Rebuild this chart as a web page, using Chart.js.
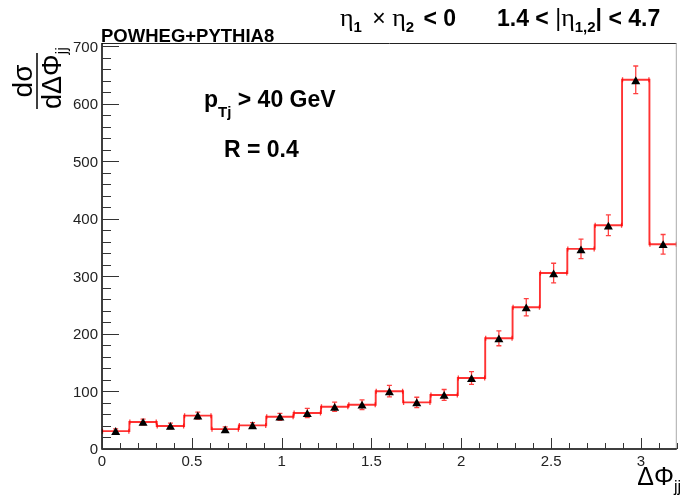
<!DOCTYPE html>
<html>
<head>
<meta charset="utf-8">
<script src="https://cdn.jsdelivr.net/npm/chart.js@4.4.0/dist/chart.umd.min.js"></script>
<style>
body { margin: 0; background: #fff; }
canvas { display: block; }
</style>
</head>
<body>
<canvas id="mycanvas" width="682" height="495"></canvas>
<script>
// binning of the histogram
var xMin = 0, xMax = 3.2, nBins = 21;
var yMin = 0, yMax = 706;

// red histogram (step line) and its errors
var histValues = [31, 47, 40, 58, 34.5, 41, 56, 62.5, 73.5, 77, 100.5, 81, 94, 123.5, 192.5, 246.5, 306, 348, 389, 642, 356];
var histErrors = [4, 5, 5, 6, 4, 5, 6, 8, 8, 8.5, 10, 9, 9.5, 11, 13, 15, 17, 17, 18, 24, 17];
// black triangles
var pointValues = [29, 45, 38, 56, 32, 39, 54, 60, 71, 75, 98, 79, 92, 121, 190, 244, 303, 345, 386, 639, 354];

var xTickValues = [0, 0.5, 1, 1.5, 2, 2.5, 3];
var xTickLabels = ["0", "0.5", "1", "1.5", "2", "2.5", "3"];
var yTickValues = [0, 100, 200, 300, 400, 500, 600, 700];
var yTickLabels = ["0", "100", "200", "300", "400", "500", "600", "700"];
var xMinorStep = 0.1, yMinorStep = 20;

var binWidth = (xMax - xMin) / nBins;
var stepData = [];
var pointData = [];
for (var i = 0; i < nBins; i++) {
    stepData.push({ x: xMin + i * binWidth, y: histValues[i] });
    pointData.push({ x: xMin + (i + 0.5) * binWidth, y: pointValues[i] });
}
stepData.push({ x: xMax, y: histValues[nBins - 1] });

// draws a row of text pieces: [text, font, dy]
function drawRuns(ctx, x, y, runs) {
    for (var k = 0; k < runs.length; k++) {
        ctx.font = runs[k][1];
        ctx.fillText(runs[k][0], x, y + (runs[k][2] || 0));
        x += ctx.measureText(runs[k][0]).width;
    }
    return x;
}
function runsWidth(ctx, runs) {
    var w = 0;
    for (var k = 0; k < runs.length; k++) {
        ctx.font = runs[k][1];
        w += ctx.measureText(runs[k][0]).width;
    }
    return w;
}

var errorBars = {
    id: 'errorBars',
    beforeDatasetsDraw: function(chart) {
        var ctx = chart.ctx, xs = chart.scales.x, ys = chart.scales.y;
        ctx.save();
        ctx.strokeStyle = 'rgba(255,0,0,0.75)';
        ctx.lineWidth = 1.3;
        for (var i = 0; i < nBins; i++) {
            var cx = xs.getPixelForValue(xMin + (i + 0.5) * binWidth);
            var lo = xs.getPixelForValue(xMin + i * binWidth);
            var hi = xs.getPixelForValue(xMin + (i + 1) * binWidth);
            var yv = ys.getPixelForValue(histValues[i]);
            var y1 = ys.getPixelForValue(histValues[i] + histErrors[i]);
            var y2 = ys.getPixelForValue(histValues[i] - histErrors[i]);
            ctx.beginPath();
            ctx.moveTo(cx, y1); ctx.lineTo(cx, y2);
            ctx.moveTo(cx - 2.5, y1); ctx.lineTo(cx + 2.5, y1);
            ctx.moveTo(cx - 2.5, y2); ctx.lineTo(cx + 2.5, y2);
            ctx.moveTo(lo + 0.5, yv - 2.5); ctx.lineTo(lo + 0.5, yv + 2.5);
            ctx.moveTo(hi - 0.5, yv - 2.5); ctx.lineTo(hi - 0.5, yv + 2.5);
            ctx.stroke();
        }
        ctx.restore();
    }
};

var frameAndText = {
    id: 'frameAndText',
    afterDraw: function(chart) {
        var ctx = chart.ctx, a = chart.chartArea, xs = chart.scales.x, ys = chart.scales.y;
        ctx.save();
        // frame
        ctx.lineWidth = 1;
        ctx.strokeStyle = '#222';
        ctx.beginPath();
        ctx.moveTo(a.left, a.top + 0.5); ctx.lineTo(a.right, a.top + 0.5);
        ctx.stroke();
        ctx.strokeStyle = '#aaa';
        ctx.beginPath();
        ctx.moveTo(a.right - 0.5, a.top); ctx.lineTo(a.right - 0.5, a.bottom);
        ctx.stroke();
        ctx.strokeStyle = '#000';
        ctx.lineWidth = 1.5;
        ctx.beginPath();
        ctx.moveTo(a.left, a.top); ctx.lineTo(a.left, a.bottom);
        ctx.lineTo(a.right, a.bottom);
        ctx.stroke();

        // ticks
        ctx.strokeStyle = '#333';
        ctx.lineWidth = 1;
        ctx.beginPath();
        for (var v = xMin; v <= xMax + 1e-9; v += xMinorStep) {
            var px = Math.round(xs.getPixelForValue(v)) + 0.5;
            var major = Math.abs(v * 2 - Math.round(v * 2)) < 1e-6;
            ctx.moveTo(px, a.bottom);
            ctx.lineTo(px, a.bottom - (major ? 11 : 6));
        }
        for (var w = yMin; w <= yMax + 1e-9; w += yMinorStep) {
            var py = Math.round(ys.getPixelForValue(w)) + 0.5;
            var majorY = w % 100 === 0;
            ctx.moveTo(a.left, py);
            ctx.lineTo(a.left + (majorY ? 17 : 9), py);
        }
        ctx.stroke();

        // tick labels
        ctx.fillStyle = '#222';
        ctx.font = '15px "Liberation Sans", Arial, sans-serif';
        ctx.textAlign = 'center';
        ctx.textBaseline = 'top';
        for (var i = 0; i < xTickValues.length; i++) {
            ctx.fillText(xTickLabels[i], xs.getPixelForValue(xTickValues[i]), a.bottom + 5);
        }
        ctx.textAlign = 'right';
        ctx.textBaseline = 'middle';
        for (var j = 0; j < yTickValues.length; j++) {
            ctx.fillText(yTickLabels[j], a.left - 4, ys.getPixelForValue(yTickValues[j]) + 1);
        }

        // axis titles
        ctx.fillStyle = '#000';
        ctx.textAlign = 'left';
        ctx.textBaseline = 'alphabetic';
        var sans = '"Liberation Sans", Arial, sans-serif';
        var xt = [["\u0394\u03A6", '25px ' + sans, 0], ["jj", '16px ' + sans, 7]];
        drawRuns(ctx, 681 - runsWidth(ctx, xt), 485, xt);

        ctx.save();
        ctx.translate(37, 81);
        ctx.rotate(-Math.PI / 2);
        ctx.textAlign = 'center';
        ctx.font = '28px ' + sans;
        ctx.fillText("d\u03C3", 0, -5);
        ctx.fillRect(-28, -0.75, 56, 1.5);
        ctx.textAlign = 'left';
        var den = [["d\u0394\u03A6", '27px ' + sans, 0], ["jj", '17px ' + sans, 6]];
        drawRuns(ctx, -28, 24, den);
        ctx.restore();

        // header texts
        var bold = 'bold 23px ' + sans;
        var sub = 'bold 15px ' + sans;
        var eta = '26px "Liberation Serif", "DejaVu Serif", serif';
        var x1 = drawRuns(ctx, 340, 26, [["\u03B7", eta, 0], ["1", sub, 6]]);
        x1 = drawRuns(ctx, x1 + 4, 26, [[" \u00D7 ", '23px ' + sans, 0], ["\u03B7", eta, 0], ["2", sub, 6]]);
        drawRuns(ctx, x1 + 3, 26, [[" < 0", bold, 0]]);
        drawRuns(ctx, 497, 26, [["1.4 < ", bold, 0], ["|", '23px ' + sans, 0], ["\u03B7", eta, 0],
            ["1,2", sub, 6], ["| < 4.7", bold, 0]]);
        drawRuns(ctx, 101, 42, [["POWHEG+PYTHIA8", 'bold 18.5px ' + sans, 0]]);

        var bold23 = 'bold 23px ' + sans;
        drawRuns(ctx, 204, 107, [["p", bold23, 0], ["Tj", 'bold 15px ' + sans, 10], [" > 40 GeV", bold23, 0]]);
        drawRuns(ctx, 224, 157, [["R = 0.4", bold23, 0]]);
        ctx.restore();
    }
};

var ctx = document.getElementById("mycanvas").getContext("2d");
var chart = new Chart(ctx, {
    type: 'scatter',
    data: {
        datasets: [
            {
                label: "points",
                data: pointData,
                pointStyle: 'triangle',
                pointRadius: 5.2,
                backgroundColor: '#000',
                borderColor: '#000',
                borderWidth: 0,
                showLine: false
            },
            {
                label: "histogram",
                type: 'line',
                data: stepData,
                stepped: 'before',
                borderColor: 'rgba(255,0,0,0.8)',
                borderWidth: 1.9,
                pointRadius: 0,
                fill: false,
                clip: false
            }
        ]
    },
    options: {
        responsive: false,
        animation: false,
        events: [],
        layout: { padding: { left: 102, right: 1, top: 43, bottom: 46 } },
        plugins: { legend: { display: false }, tooltip: { enabled: false } },
        scales: {
            x: { type: 'linear', display: false, min: xMin, max: xMax },
            y: { type: 'linear', display: false, min: yMin, max: yMax }
        }
    },
    plugins: [errorBars, frameAndText]
});
</script>
</body>
</html>
